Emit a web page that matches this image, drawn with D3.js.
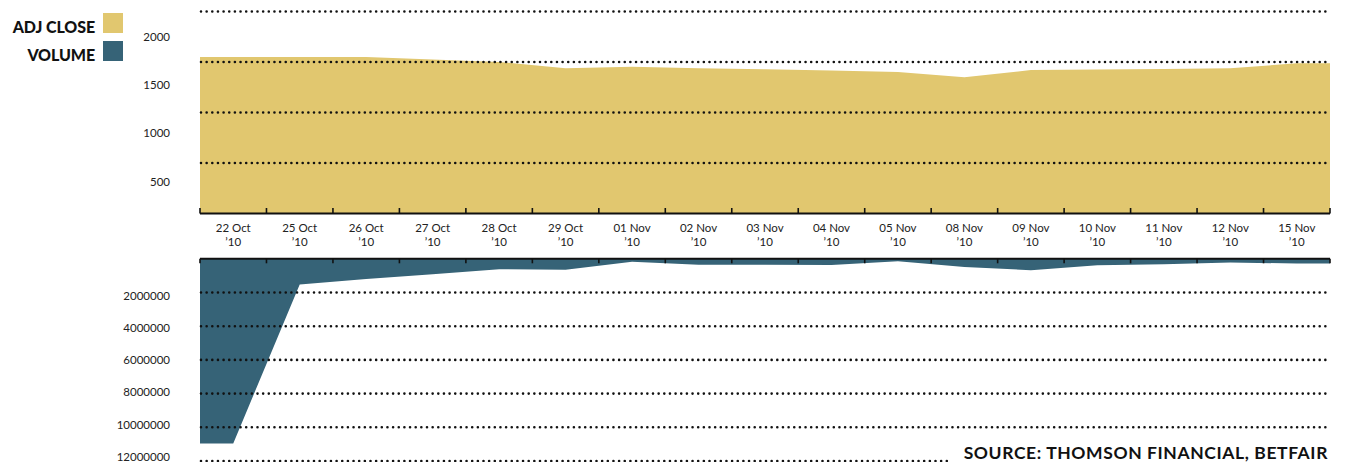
<!DOCTYPE html>
<html>
<head>
<meta charset="utf-8">
<script src="https://cdn.jsdelivr.net/npm/d3@7"></script>
<style>
  html, body { margin: 0; padding: 0; background: #fff; }
  svg { display: block; }
  text { font-family: Lato, "Noto Sans", sans-serif; fill: #222; }
</style>
</head>
<body>
<svg id="chart" width="1345" height="462"></svg>
<script>
const categories = ["22 Oct","25 Oct","26 Oct","27 Oct","28 Oct","29 Oct","01 Nov","02 Nov","03 Nov","04 Nov","05 Nov","08 Nov","09 Nov","10 Nov","11 Nov","12 Nov","15 Nov"];
const yearLabel = "\u201910";
const adjClose = [1550,1550,1550,1525,1500,1437,1453,1437,1427,1415,1400,1348,1420,1425,1430,1437,1487];
const volume = [10960000,1530000,1200000,910000,620000,650000,170000,350000,350000,370000,140000,480000,680000,380000,320000,220000,280000];
const closeTicks = [500,1000,1500,2000];
const volumeTicks = [2000000,4000000,6000000,8000000,10000000,12000000];
const legendItems = ["ADJ CLOSE","VOLUME"];
const sourceText = "SOURCE: THOMSON FINANCIAL, BETFAIR";

const GOLD = "#e1c76f", TEAL = "#366377";
const svg = d3.select("#chart");

const x = d3.scaleBand().domain(categories).range([200, 1330]).padding(0);
const bw = x.bandwidth();
const cx = d => x(d) + bw / 2;

const yTop = d3.scaleLinear().domain([0, 2000]).range([213.5, 11.5]);
const yTopLabel = d3.scaleLinear().domain([500, 2000]).range([181.7, 37]);
const yVol = d3.scaleLinear().domain([0, 12000000]).range([258.8, 461]);
const yVolLabel = d3.scaleLinear().domain([2000000, 12000000]).range([296, 456.7]);

// extended points so areas reach the plot edges
function pts(vals) {
  const p = categories.map((c, i) => [cx(c), vals[i]]);
  return [[x.range()[0], vals[0]], ...p, [x.range()[1], vals[vals.length - 1]]];
}

// areas
svg.append("path")
  .datum(pts(adjClose))
  .attr("fill", GOLD)
  .attr("d", d3.area().x(d => d[0]).y0(yTop(0)).y1(d => yTop(d[1])));

svg.append("path")
  .datum(pts(volume))
  .attr("fill", TEAL)
  .attr("d", d3.area().x(d => d[0]).y0(yVol(0)).y1(d => yVol(d[1])));

// dotted gridlines
const dot = sel => sel.attr("stroke", "#111").attr("stroke-width", 2.6)
  .attr("stroke-linecap", "round").attr("stroke-dasharray", "0,5.65");

svg.append("g").selectAll("line").data(closeTicks).join("line")
  .attr("x1", 201).attr("x2", 1330)
  .attr("y1", d => yTop(d)).attr("y2", d => yTop(d))
  .call(dot);

svg.append("g").selectAll("line").data(volumeTicks).join("line")
  .attr("x1", 201).attr("x2", 1330)
  .attr("y1", d => yVol(d)).attr("y2", d => yVol(d))
  .call(dot);

// axis lines and ticks
const bounds = categories.map(c => x(c)).concat([x.range()[1]]);
svg.append("line").attr("x1", 200).attr("x2", 1330)
  .attr("y1", yTop(0)).attr("y2", yTop(0)).attr("stroke", "#111").attr("stroke-width", 2);
svg.append("g").selectAll("line").data(bounds).join("line")
  .attr("x1", d => d).attr("x2", d => d)
  .attr("y1", yTop(0)).attr("y2", yTop(0) - 5.5)
  .attr("stroke", "#111").attr("stroke-width", 1.6);

svg.append("line").attr("x1", 200).attr("x2", 1330)
  .attr("y1", yVol(0)).attr("y2", yVol(0)).attr("stroke", "#111").attr("stroke-width", 2);
svg.append("g").selectAll("line").data(bounds).join("line")
  .attr("x1", d => d).attr("x2", d => d)
  .attr("y1", yVol(0)).attr("y2", yVol(0) + 4.5)
  .attr("stroke", "#111").attr("stroke-width", 1.6);

// x labels
const xl = svg.append("g").selectAll("text").data(categories).join("text")
  .attr("text-anchor", "middle").attr("font-size", 11.5);
xl.append("tspan").attr("x", d => cx(d)).attr("y", 231.5).text(d => d);
xl.append("tspan").attr("x", d => cx(d)).attr("y", 245.5).text(yearLabel);

// y labels
svg.append("g").selectAll("text").data(closeTicks).join("text")
  .attr("x", 170).attr("y", d => yTopLabel(d)).attr("dy", "0.35em")
  .attr("text-anchor", "end").attr("font-size", 11.5).text(d => d);
svg.append("g").selectAll("text").data(volumeTicks).join("text")
  .attr("x", 170).attr("y", d => yVolLabel(d)).attr("dy", "0.35em")
  .attr("text-anchor", "end").attr("font-size", 11.5).text(d => d);

// legend
const legColors = [GOLD, TEAL];
const lg = svg.append("g").selectAll("g").data(legendItems).join("g")
  .attr("transform", (d, i) => `translate(0,${13 + i * 28})`);
lg.append("rect").attr("x", 103).attr("y", 0).attr("width", 20).attr("height", 20)
  .attr("fill", (d, i) => legColors[i]);
lg.append("text").attr("x", 95).attr("y", 19.5).attr("text-anchor", "end")
  .attr("font-size", 16).attr("font-weight", 900).attr("letter-spacing", -0.1)
  .style("fill", "#111").text(d => d);

// source
svg.append("rect").attr("x", 950).attr("y", 442).attr("width", 395).attr("height", 20).attr("fill", "#fff");
svg.append("text").attr("x", 1328).attr("y", 459).attr("text-anchor", "end")
  .attr("font-size", 17.5).attr("font-weight", 700).attr("letter-spacing", 0.6).style("fill", "#111")
  .text(sourceText);
</script>
</body>
</html>
